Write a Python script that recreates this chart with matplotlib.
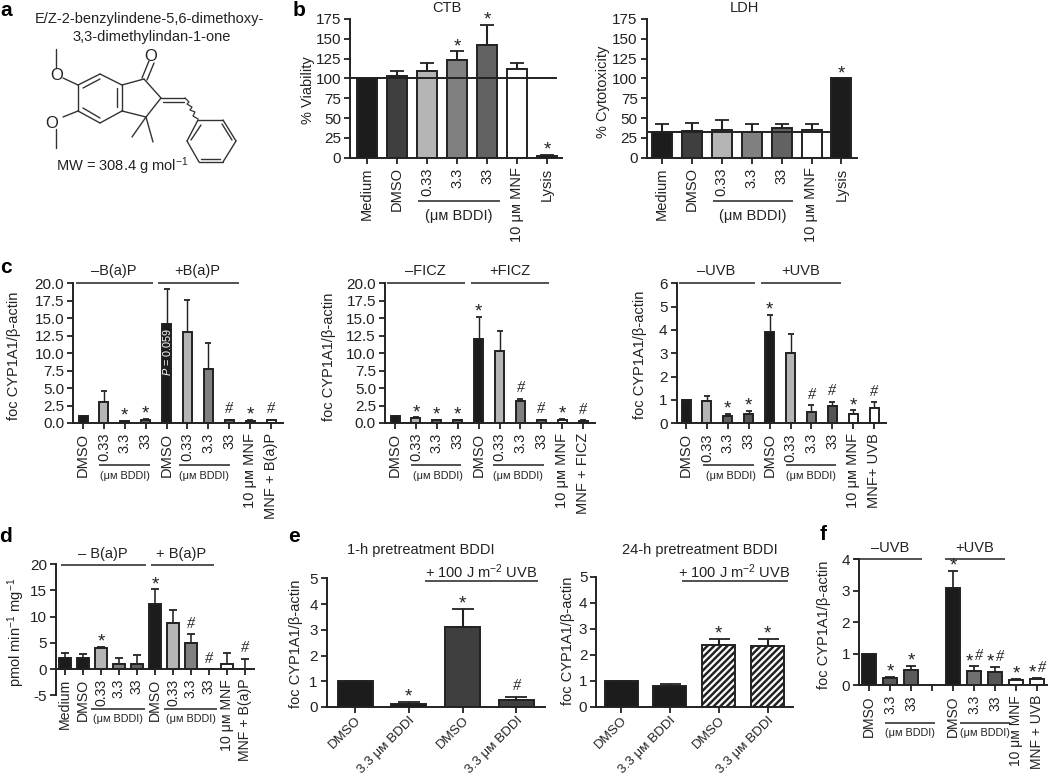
import numpy as np
import matplotlib
matplotlib.use("Agg")
import matplotlib.pyplot as plt

plt.rcParams['font.family'] = ['Liberation Sans', 'DejaVu Sans']
plt.rcParams['mathtext.fontset'] = 'custom'
plt.rcParams['mathtext.rm'] = 'Liberation Sans'
plt.rcParams['mathtext.it'] = 'Liberation Sans:italic'
plt.rcParams['mathtext.bf'] = 'Liberation Sans:bold'
plt.rcParams['font.size'] = 10.5
plt.rcParams['hatch.linewidth'] = 1.8
plt.rcParams['text.color'] = '#222222'

W, H = 1050, 778
INK = '#222222'
UM = 'μᴍ'

# panel b
b_labels = ['Medium', 'DMSO', '0.33', '3.3', '33', f'10 {UM} MNF', 'Lysis']
ctb_values = [100, 103, 110, 123, 142, 112, 2]
ctb_tops = [100, 109, 120, 134, 168, 120, 3]
ctb_marks = ['', '', '', '*', '*', '', '*']
ldh_values = [32, 34, 35, 33, 37, 35, 100]
ldh_tops = [42, 44, 47, 43, 42, 43, 100]
ldh_marks = ['', '', '', '', '', '', '*']
b_ticks = [0, 25, 50, 75, 100, 125, 150, 175]

# panel c
c1_labels = ['DMSO', '0.33', '3.3', '33', 'DMSO', '0.33', '3.3', '33', f'10 {UM} MNF', 'MNF + B(a)P']
c2_labels = c1_labels[:9] + ['MNF + FICZ']
c3_labels = c1_labels[:9] + ['MNF+ UVB']
c1_values = [1, 3, 0.3, 0.5, 14.2, 13, 7.7, 0.4, 0.3, 0.4]
c1_tops = [1, 4.6, 0.35, 0.6, 19.2, 17.6, 11.5, 0.5, 0.4, 0.5]
c1_marks = ['', '', '*', '*', '', '', '', '#', '*', '#']
c2_values = [1, 0.7, 0.4, 0.4, 12, 10.3, 3.2, 0.4, 0.5, 0.3]
c2_tops = [1, 0.8, 0.5, 0.5, 15.2, 13.1, 3.5, 0.5, 0.55, 0.4]
c2_marks = ['', '*', '*', '*', '*', '', '#', '#', '*', '#']
c3_values = [1, 0.95, 0.3, 0.4, 3.9, 3, 0.5, 0.75, 0.4, 0.65]
c3_tops = [1, 1.15, 0.42, 0.53, 4.65, 3.82, 0.77, 0.93, 0.55, 0.9]
c3_marks = ['', '', '*', '*', '*', '', '#', '#', '*', '#']
c_ticks = [0, 2.5, 5, 7.5, 10, 12.5, 15, 17.5, 20]
c3_ticks = [0, 1, 2, 3, 4, 5, 6]

# panel d
d_labels = ['Medium', 'DMSO', '0.33', '3.3', '33', 'DMSO', '0.33', '3.3', '33', f'10 {UM} MNF', 'MNF + B(a)P']
d_values = [2.1, 2.1, 4.1, 1, 1, 12.4, 8.8, 5, 0, 1, 0]
d_tops = [3.1, 2.8, 4.2, 2.1, 2.7, 15.2, 11.3, 6.7, 0, 3.1, 2]
d_marks = ['', '', '*', '', '', '*', '', '#', '#', '', '#']
d_ticks = [-5, 0, 5, 10, 15, 20]

# panel e
e_labels = ['DMSO', f'3.3 {UM} BDDI', 'DMSO', f'3.3 {UM} BDDI']
e1_values = [1, 0.13, 3.1, 0.27]
e1_tops = [1, 0.18, 3.8, 0.4]
e1_marks = ['', '*', '*', '#']
e2_values = [1, 0.8, 2.38, 2.33]
e2_tops = [1, 0.87, 2.6, 2.6]
e2_marks = ['', '', '*', '*']
e_ticks = [0, 1, 2, 3, 4, 5]

# panel f
f_labels = ['DMSO', '3.3', '33', '', 'DMSO', '3.3', '33', f'10 {UM} MNF', 'MNF + UVB']
f_values = [1, 0.23, 0.5, np.nan, 3.08, 0.46, 0.43, 0.16, 0.2]
f_tops = [1, 0.27, 0.62, np.nan, 3.63, 0.6, 0.57, 0.19, 0.22]
f_marks = ['', '*', '*', '', '*', '*#', '*#', '*', '*#']
f_ticks = [0, 1, 2, 3, 4]

K, D, L, M1, M2, WH = '#1c1c1c', '#3f3f3f', '#b5b5b5', '#808080', '#626262', 'white'
b_colors = [K, D, L, M1, M2, WH, K]
c1_colors = [K, L, M2, M2, K, L, M1, M2, WH, WH]
c3_colors = [K, L, M2, '#555555', K, L, '#747474', '#555555', WH, WH]
d_colors = [K, K, L, M1, M2, K, L, M1, M2, WH, WH]
e1_colors = [K, K, D, D]
e2_colors = [K, K, WH, WH]
f_colors = [K, '#5a5a5a', '#5a5a5a', K, K, '#707070', '#555555', WH, WH]

# molecule of panel a, in pixels
mol_bonds = [
    ((100, 74), (122, 85)), ((122, 85), (122, 111)), ((122, 111), (100, 123)),
    ((100, 123), (78, 111)), ((78, 111), (78, 85)), ((78, 85), (100, 74)),
    ((100, 79), (83, 88)), ((117, 88), (117, 107)), ((100, 118), (83, 108)),
    ((122, 85), (144, 79)), ((144, 79), (161, 98)), ((161, 98), (146, 117)), ((146, 117), (122, 111)),
    ((142, 78), (149, 61)), ((147, 80), (154, 63)),
    ((161, 98), (185, 98)), ((163, 102), (184, 102)),
    ((146, 117), (132, 137)), ((146, 117), (153, 142)),
    ((198, 120), (223, 120)), ((223, 120), (236, 141)), ((236, 141), (223, 162)),
    ((223, 162), (199, 162)), ((199, 162), (187, 141)), ((187, 141), (198, 120)),
    ((222, 124), (232, 140)), ((201, 159), (220, 159)), ((191, 140), (201, 125)),
    ((78, 85), (63, 78)), ((56, 68), (56, 49)), ((78, 111), (63, 117)), ((56, 129), (56, 148)),
]
mol_wave_x = [185, 189, 187, 192, 190, 195, 193, 198]
mol_wave_y = [98, 102, 104, 107, 110, 112, 116, 119]

fig = plt.figure(figsize=(W / 100, H / 100), dpi=100)


def put_mark(ax, m, x, t, dx=0):
    if m == '*':
        ax.annotate('*', (x, t), xytext=(dx, 0.3), textcoords='offset points', ha='center',
                    va='baseline', fontsize=13.5, annotation_clip=False, zorder=6)
    else:
        ax.annotate('#', (x, t), xytext=(dx, 4.5), textcoords='offset points', ha='center',
                    va='baseline', fontsize=11.5, family='Liberation Serif', style='italic',
                    annotation_clip=False, zorder=6)


def draw_panel(box, first, step, ylim, ticks, labels, values, tops, colors, marks,
               width, fmt='%g', rotation=90, hatches=None, xsize=10.5):
    left, right, top_px, bottom_px = box
    ax = fig.add_axes([left / W, 1 - bottom_px / H, (right - left) / W, (bottom_px - top_px) / H])
    pos = np.arange(len(values))
    values = np.array(values, dtype=float)
    tops = np.array(tops, dtype=float)
    bars = ax.bar(pos, values, width=(width - 2) / step, color=colors, edgecolor=INK, linewidth=1.4, zorder=3)
    if hatches:
        for bar, h in zip(bars, hatches):
            if h:
                bar.set_hatch(h)
    ax.errorbar(pos, values, yerr=[np.zeros(len(values)), tops - values], fmt='none', ecolor=INK,
                elinewidth=min(1.5, 0.6 + width * 0.04), capsize=0.3 * width * 0.72, capthick=1.3, zorder=2)
    ax.set_xlim((left - first) / step, (right - first) / step)
    ax.set_ylim(ylim)
    ax.patch.set_alpha(0)
    for s in ['top', 'right']:
        ax.spines[s].set_visible(False)
    for s in ['left', 'bottom']:
        ax.spines[s].set_linewidth(1.4)
        ax.spines[s].set_color(INK)
    ax.spines['bottom'].set_position(('data', 0))
    ax.spines['bottom'].set_zorder(5)
    ax.set_yticks(ticks)
    ax.yaxis.set_major_formatter(matplotlib.ticker.FormatStrFormatter(fmt))
    ax.set_xticks(pos)
    ax.tick_params(axis='both', length=4, width=1.3, color=INK, labelcolor=INK)
    ax.tick_params(axis='y', pad=2.5, labelsize=11)
    if rotation == 90:
        ax.set_xticklabels(labels, rotation=90, ha='center', va='top')
        ax.tick_params(axis='x', pad=3, labelsize=xsize)
    else:
        ax.set_xticklabels(labels, rotation=rotation, ha='right', va='top', rotation_mode='anchor')
        ax.tick_params(axis='x', pad=1.5, labelsize=xsize)
    for x, t, m in zip(pos, tops, marks):
        if m == '*#':
            put_mark(ax, '*', x, t, dx=-3.5)
            put_mark(ax, '#', x, t, dx=3.5)
        elif m:
            put_mark(ax, m, x, t)
    return ax


# y limits run to the axis tops, labels sit under the tick labels
ctb = draw_panel((350, 562, 19, 157.7), 367, 30, (0, 175), b_ticks, b_labels, ctb_values, ctb_tops, b_colors, ctb_marks, 22)
ctb.plot([ctb.get_xlim()[0], 6.3], [100, 100], color=INK, lw=1.4, zorder=4)
ldh = draw_panel((646.7, 856.7, 19, 157.7), 662, 29.9, (0, 175), b_ticks, b_labels, ldh_values, ldh_tops, b_colors, ldh_marks, 22)
ldh.plot([ldh.get_xlim()[0], 5.6], [32, 32], color=INK, lw=1.4, zorder=4)

draw_panel((73.3, 282.7, 283.3, 423), 83, 20.9, (0, 20), c_ticks, c1_labels, c1_values, c1_tops, c1_colors, c1_marks, 11, fmt='%.1f')
draw_panel((385, 595, 283.3, 423), 395, 20.9, (0, 20), c_ticks, c2_labels, c2_values, c2_tops, c1_colors, c2_marks, 11, fmt='%.1f')
draw_panel((676.5, 886, 283.3, 423.3), 686, 20.9, (0, 6), c3_ticks, c3_labels, c3_values, c3_tops, c3_colors, c3_marks, 11)
draw_panel((56, 254, 564.3, 695.3), 65, 18, (-5, 20), d_ticks, d_labels, d_values, d_tops, d_colors, d_marks, 14, xsize=10.2)
draw_panel((326.8, 545, 578.3, 707), 355, 53.8, (0, 5), e_ticks, e_labels, e1_values, e1_tops, e1_colors, e1_marks, 37, rotation=45, xsize=9.6)
draw_panel((596.4, 792.5, 576.7, 707), 621, 48.9, (0, 5), e_ticks, e_labels, e2_values, e2_tops, e2_colors, e2_marks, 35,
           rotation=45, hatches=[None, None, '/////', '/////'], xsize=9.6)
draw_panel((859, 1047, 559.3, 685.3), 869.2, 21, (0, 4), f_ticks, f_labels, f_values, f_tops, f_colors, f_marks, 16, xsize=10)

# everything placed by hand goes on a pixel overlay
ov = fig.add_axes([0, 0, 1, 1], zorder=10)
ov.set_xlim(0, W)
ov.set_ylim(H, 0)
ov.axis('off')


def txt(x, y, s, size=10.5, rot=0, **kw):
    ov.text(x, y, s, fontsize=size, rotation=rot, ha=kw.pop('ha', 'center'), va=kw.pop('va', 'center'), **kw)


def line(x0, x1, y, lw=1.1):
    ov.plot([x0, x1], [y, y], color=INK, lw=lw, solid_capstyle='butt')


# panel letters
for x, y, s in [(6, 10, 'a'), (299, 10, 'b'), (6, 267, 'c'), (6, 536, 'd'), (294, 536, 'e'), (823, 535, 'f')]:
    txt(x, y, s, size=15, fontweight='bold', color='black')

# panel a
for p, q in mol_bonds:
    ov.plot([p[0], q[0]], [p[1], q[1]], color='#333333', lw=1.0, solid_capstyle='round')
ov.plot(mol_wave_x, mol_wave_y, color='#333333', lw=0.9)
txt(149, 19, 'E/Z-2-benzylindene-5,6-dimethoxy-')
txt(152, 37, '3,3-dimethylindan-1-one')
txt(151, 56, 'O', size=12)
txt(57, 75, 'O', size=12)
txt(52, 123, 'O', size=12)
txt(122, 166, 'MW = 308.4 g mol$^{-1}$')

# panel b
txt(446.6, 8, 'CTB')
txt(744, 8, 'LDH')
txt(307.6, 90, '% Viability', rot=90)
txt(603, 92, '% Cytotoxicity', rot=90)
line(418, 500, 201)
txt(459, 216, f'({UM} BDDI)')
line(713, 793, 201)
txt(753, 216, f'({UM} BDDI)')

# panel c
y_c = 'foc CYP1A1/β-actin'
txt(13.7, 356, y_c, rot=90)
txt(328.5, 356.7, y_c, rot=90)
txt(640, 355, y_c, rot=90)
for x0, x1, tx, s in [(76, 152.7, 114, '–B(a)P'), (157.7, 239, 197, '+B(a)P'),
                      (386.7, 464.7, 425, '–FICZ'), (470.7, 549.3, 510, '+FICZ'),
                      (678.5, 755, 716, '–UVB'), (761, 841, 801, '+UVB')]:
    line(x0, x1, 282.5)
    txt(tx, 270.7, s)
for x0, x1, tx in [(99, 150, 124.7), (179, 230, 204), (411, 460.7, 438.3), (493, 544, 518),
                   (703, 753.7, 731), (786, 836, 811)]:
    line(x0, x1, 465.3)
    txt(tx, 476, f'({UM} BDDI)', size=7.8)
txt(166.7, 352, '$\\mathit{P}$ = 0.059', size=7.8, rot=90, color='white')

# panel d
txt(16, 632, 'pmol min$^{-1}$ mg$^{-1}$', rot=90)
line(61, 146, 564.7)
line(151, 214, 564.7)
txt(103, 554, '– B(a)P')
txt(181, 554, '+ B(a)P')
for x0, x1, tx in [(90.8, 145, 118), (163.6, 217.4, 190.6)]:
    line(x0, x1, 709)
    txt(tx, 719, f'({UM} BDDI)', size=7.8)

# panel e
txt(296, 644, y_c, rot=90)
txt(568, 641, y_c, rot=90)
txt(421, 550, '1-h pretreatment BDDI')
txt(699.4, 550, '24-h pretreatment BDDI')
line(425, 538, 581.3)
txt(481, 572, '+ 100 J m$^{-2}$ UVB')
line(682, 787.5, 581)
txt(734.5, 572, '+ 100 J m$^{-2}$ UVB')

# panel f
txt(824, 625, y_c, rot=90)
line(854, 922, 559.3)
line(945, 1005, 559.3)
txt(890.5, 548, '–UVB')
txt(974.5, 548, '+UVB')
for x0, x1, tx in [(885, 935, 909.7), (960, 1010, 985)]:
    line(x0, x1, 722.7)
    txt(tx, 733, f'({UM} BDDI)', size=7.8)

fig.savefig('out.png', dpi=100)
